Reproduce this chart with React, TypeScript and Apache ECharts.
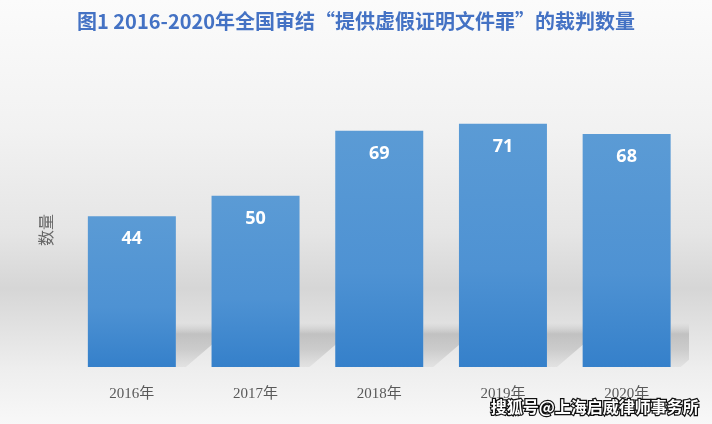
import React, { useEffect, useRef } from "react";
import * as echarts from "echarts";

const titleText = "图1 2016-2020年全国审结“提供虚假证明文件罪”的裁判数量";
const categories = ["2016年", "2017年", "2018年", "2019年", "2020年"];
const values = [44, 50, 69, 71, 68];
const yName = "数量";
const watermark = "搜狐号@上海启威律师事务所";

export default function App() {
  const ref = useRef<HTMLDivElement>(null);
  useEffect(() => {
    if (!ref.current) return;
    const chart = echarts.init(ref.current, null, { renderer: "svg" });
    const barW = 88;
    chart.setOption({
      animation: false,
      title: {
        text: titleText,
        left: "center",
        top: 5,
        textStyle: {
          color: "#4472C4",
          fontSize: 20,
          fontWeight: "bold",
          fontFamily: "'Noto Sans CJK SC', sans-serif",
        },
      },
      graphic: [
        {
          type: "rect",
          z: -10,
          silent: true,
          shape: { x: 0, y: 0, width: 712, height: 424 },
          style: {
            fill: new echarts.graphic.LinearGradient(0, 0, 0, 1, [
              { offset: 0, color: "#fbfbfb" },
              { offset: 0.3, color: "#f2f2f2" },
              { offset: 0.55, color: "#e5e5e5" },
              { offset: 0.68, color: "#d6d6d6" },
              { offset: 0.87, color: "#eeeeee" },
              { offset: 1, color: "#f8f8f8" },
            ]),
          },
        },
        {
          type: "text",
          right: 12,
          bottom: 9,
          z: 100,
          style: {
            text: watermark,
            fill: "#ffffff",
            stroke: "#111111",
            lineWidth: 2.5,
            fontSize: 16,
            fontWeight: "bold",
            fontFamily: "'Noto Sans CJK SC', sans-serif",
          },
        },
      ],
      grid: { left: 70, right: 23.5, top: 93, bottom: 57 },
      xAxis: {
        type: "category",
        data: categories,
        axisLine: { show: false },
        axisTick: { show: false },
        axisLabel: {
          color: "#595959",
          fontSize: 15,
          margin: 18,
          fontFamily: "'Liberation Serif', 'Noto Sans CJK SC', serif",
        },
      },
      yAxis: {
        type: "value",
        min: 0,
        max: 80,
        name: yName,
        nameLocation: "middle",
        nameRotate: 90,
        nameGap: 17,
        nameTextStyle: {
          color: "#666666",
          fontSize: 16,
          fontFamily: "'Noto Sans CJK SC', serif",
        },
        axisLine: { show: false },
        axisTick: { show: false },
        axisLabel: { show: false },
        splitLine: { show: false },
      },
      series: [
        {
          type: "custom",
          z: 1,
          silent: true,
          clip: true,
          data: values.map((v, i) => [i, v]),
          renderItem: (params: any, api: any) => {
            const p = api.coord([api.value(0), 0]);
            const right = p[0] + barW / 2;
            const base = p[1];
            return {
              type: "polygon",
              shape: {
                points: [
                  [right, base - 44],
                  [right + 38, base - 44],
                  [right + 38, base - 24],
                  [right + 10, base],
                  [right, base],
                ],
              },
              style: {
                fill: new echarts.graphic.LinearGradient(0, 0, 0, 1, [
                  { offset: 0, color: "rgba(190,190,190,0)" },
                  { offset: 0.25, color: "rgba(170,170,170,0.6)" },
                  { offset: 0.6, color: "rgba(180,180,180,0.55)" },
                  { offset: 1, color: "rgba(200,200,200,0.3)" },
                ]),
              },
            };
          },
        },
        {
          type: "bar",
          z: 2,
          data: values,
          barWidth: barW,
          itemStyle: {
            color: new echarts.graphic.LinearGradient(0, 0, 0, 1, [
              { offset: 0, color: "#5b9bd5" },
              { offset: 0.6, color: "#4e92d3" },
              { offset: 1, color: "#3580ca" },
            ]),
          },
          label: {
            show: true,
            position: "insideTop",
            distance: 12,
            color: "#ffffff",
            fontSize: 18,
            fontWeight: "bold",
            fontFamily: "'Open Sans', 'Noto Sans', sans-serif",
          },
        },
      ],
    });
    return () => chart.dispose();
  }, []);
  return (
    <div
      ref={ref}
      style={{ position: "fixed", left: 0, top: 0, width: 712, height: 424 }}
    />
  );
}
